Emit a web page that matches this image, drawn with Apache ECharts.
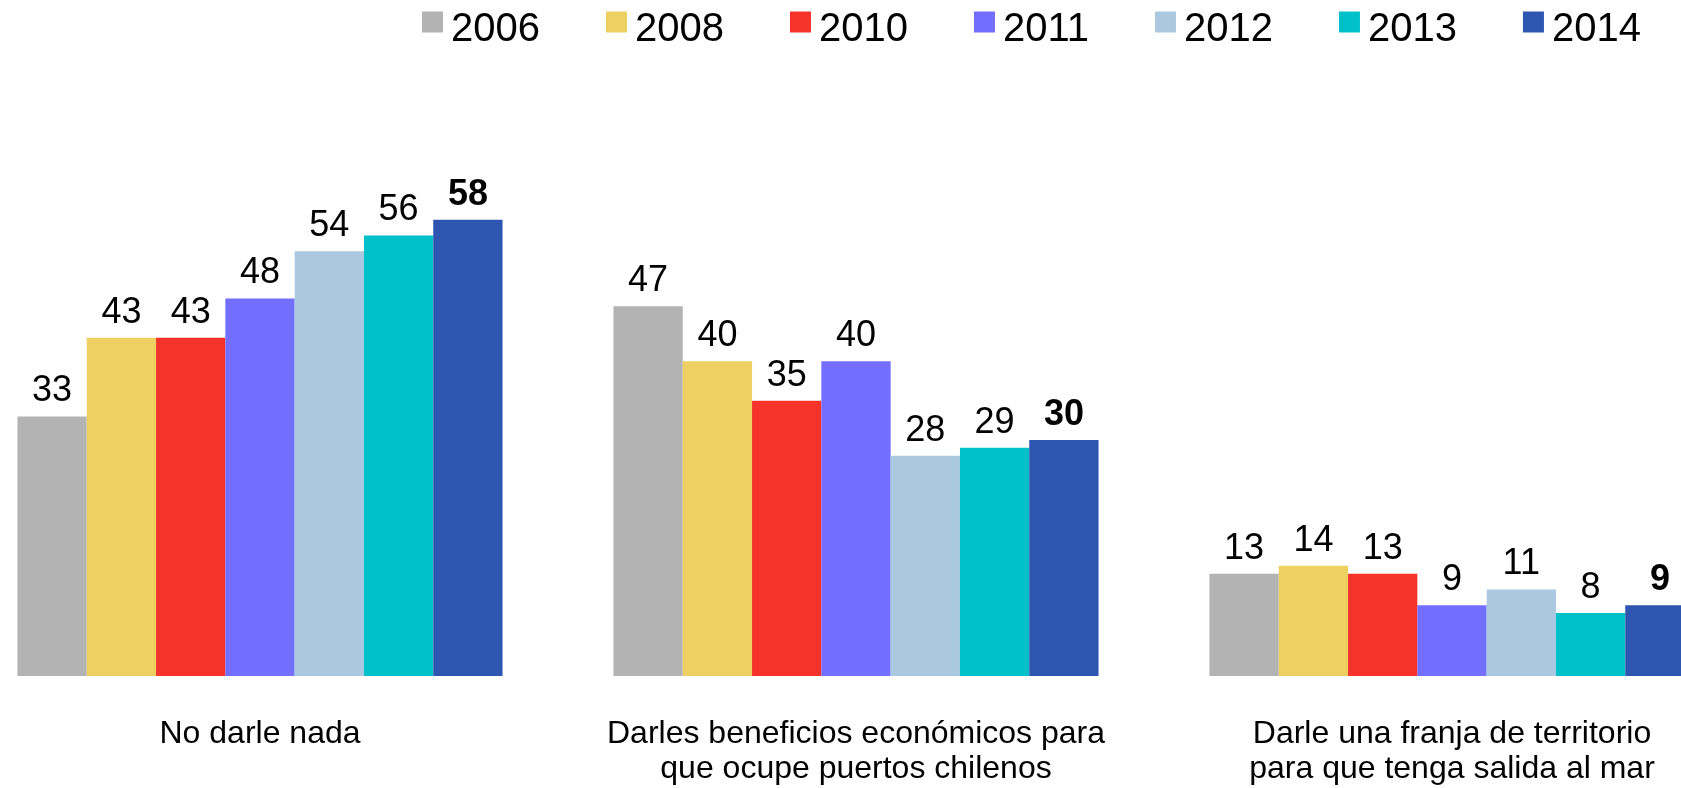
<!DOCTYPE html>
<html>
<head>
<meta charset="utf-8">
<style>
  html, body { margin: 0; padding: 0; background: #fff; overflow: hidden; }
  /* el grafico original corta la ultima barra por la derecha */
  #chart { width: 1788px; height: 788px; margin-left: -38px; }
</style>
<script src="https://cdn.jsdelivr.net/npm/echarts@6/dist/echarts.min.js"></script>
</head>
<body>
<div id="chart"></div>
<script>
var categories = [
  'No darle nada',
  'Darles beneficios económicos para\nque ocupe puertos chilenos',
  'Darle una franja de territorio\npara que tenga salida al mar'
];
var years = ['2006', '2008', '2010', '2011', '2012', '2013', '2014'];
var colors = ['#B3B3B3', '#EECF62', '#F6332B', '#736EFE', '#AAC9E0', '#00C0C9', '#2E56B0'];

// valores por año (orden de categories)
var v2006 = [33, 47, 13];
var v2008 = [43, 40, 14];
var v2010 = [43, 35, 13];
var v2011 = [48, 40, 9];
var v2012 = [54, 28, 11];
var v2013 = [56, 29, 8];
var v2014 = [58, 30, 9];
var values = [v2006, v2008, v2010, v2011, v2012, v2013, v2014];

var font = '"Liberation Sans", Arial, sans-serif';

var series = years.map(function (y, i) {
  return {
    name: y,
    type: 'bar',
    barWidth: 69.3,
    barGap: '0%',
    itemStyle: { color: colors[i] },
    label: {
      show: true,
      position: 'top',
      distance: 7,
      fontFamily: font,
      fontSize: 36,
      color: '#000',
      fontWeight: i === years.length - 1 ? 'bold' : 'normal'
    },
    data: values[i]
  };
});

var chart = echarts.init(document.getElementById('chart'));
chart.setOption({
  animation: false,
  legend: {
    left: 460,
    top: 10,
    padding: 0,
    icon: 'rect',
    itemWidth: 21,
    itemHeight: 21,
    itemGap: 66,
    formatter: '{t|{name}}',
    textStyle: {
      fontFamily: font,
      fontSize: 40,
      color: '#000',
      rich: {
        t: {
          fontFamily: font,
          fontSize: 40,
          color: '#000',
          padding: [16, 0, 0, 3]
        }
      }
    },
    data: years
  },
  grid: {
    left: 0,
    right: 0,
    top: 204,
    height: 472
  },
  xAxis: {
    type: 'category',
    data: categories,
    axisLine: { show: false },
    axisTick: { show: false },
    axisLabel: {
      margin: 41,
      fontFamily: font,
      fontSize: 32,
      lineHeight: 35,
      color: '#000',
      interval: 0
    }
  },
  yAxis: {
    type: 'value',
    min: 0,
    max: 60,
    show: false
  },
  series: series
});
</script>
</body>
</html>
